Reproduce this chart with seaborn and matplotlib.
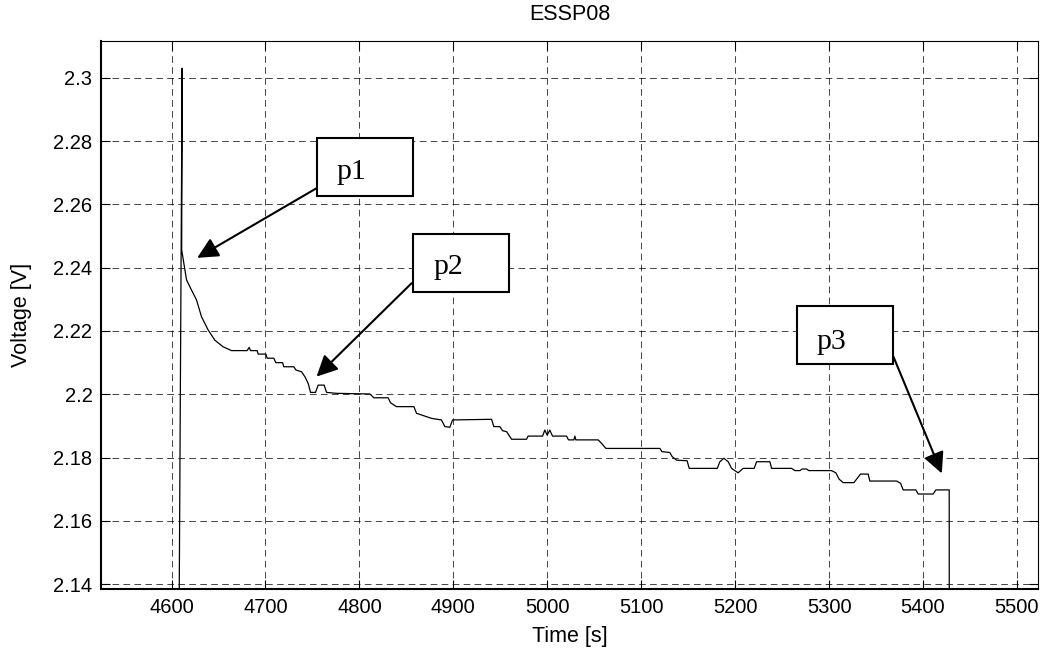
import matplotlib
matplotlib.use("Agg")
import matplotlib.pyplot as plt
import seaborn as sns
import pandas as pd
from matplotlib.patches import Rectangle
from matplotlib.ticker import FixedLocator, FuncFormatter

# ---------------- data ----------------
time_s = [4607.5, 4611.3, 4610.8, 4616.0, 4621.3, 4626.6, 4631.9, 4639.0, 4646.1, 4654.9,
          4663.9, 4680.5, 4682.6, 4684.1, 4691.1, 4692.2, 4700.4, 4701.8, 4708.9, 4711.0,
          4718.2, 4719.6, 4730.2, 4732.3, 4738.4, 4741.9, 4745.4, 4748.0, 4753.3, 4756.1,
          4762.5, 4765.0, 4775.7, 4811.1, 4815.4, 4830.6, 4833.2, 4839.5, 4858.0, 4860.8,
          4876.8, 4887.4, 4891.0, 4896.3, 4899.2, 4940.7, 4943.1, 4949.5, 4952.4, 4956.7,
          4962.0, 4977.9, 4979.6, 4995.0, 4997.4, 4999.9, 5002.7, 5005.6, 5020.5, 5022.6,
          5028.3, 5029.4, 5030.4, 5054.2, 5057.8, 5062.4, 5119.9, 5122.0, 5130.5, 5133.0,
          5137.6, 5148.9, 5151.1, 5181.0, 5183.7, 5188.0, 5192.6, 5196.2, 5203.2, 5208.5,
          5220.3, 5222.8, 5237.0, 5238.8, 5260.1, 5263.6, 5268.9, 5271.4, 5276.0, 5278.5,
          5302.6, 5307.2, 5310.7, 5315.0, 5326.4, 5329.3, 5333.5, 5341.6, 5343.4, 5371.9,
          5376.1, 5378.9, 5392.4, 5394.9, 5410.8, 5413.7, 5427.9, 5428.0]
voltage_v = [2.1000, 2.3030, 2.2456, 2.2361, 2.2329, 2.2298, 2.2245, 2.2203, 2.2171, 2.2150,
             2.2138, 2.2138, 2.2148, 2.2138, 2.2138, 2.2127, 2.2127, 2.2114, 2.2114, 2.2100,
             2.2100, 2.2087, 2.2087, 2.2077, 2.2071, 2.2056, 2.2035, 2.2006, 2.2006, 2.2029,
             2.2029, 2.2006, 2.2003, 2.2001, 2.1989, 2.1989, 2.1973, 2.1961, 2.1961, 2.1940,
             2.1924, 2.1919, 2.1898, 2.1896, 2.1919, 2.1921, 2.1898, 2.1898, 2.1885, 2.1882,
             2.1858, 2.1858, 2.1868, 2.1868, 2.1887, 2.1871, 2.1887, 2.1868, 2.1868, 2.1856,
             2.1856, 2.1868, 2.1856, 2.1856, 2.1845, 2.1829, 2.1829, 2.1819, 2.1816, 2.1803,
             2.1792, 2.1790, 2.1766, 2.1766, 2.1787, 2.1798, 2.1787, 2.1766, 2.1752, 2.1766,
             2.1766, 2.1787, 2.1787, 2.1766, 2.1766, 2.1759, 2.1759, 2.1764, 2.1764, 2.1759,
             2.1759, 2.1752, 2.1732, 2.1721, 2.1721, 2.1732, 2.1748, 2.1748, 2.1726, 2.1726,
             2.1719, 2.1698, 2.1698, 2.1685, 2.1685, 2.1698, 2.1698, 2.1000]
assert len(time_s) == len(voltage_v)

x_ticks = [4600, 4700, 4800, 4900, 5000, 5100, 5200, 5300, 5400, 5500]
y_ticks = [2.14, 2.16, 2.18, 2.20, 2.22, 2.24, 2.26, 2.28, 2.30]

title_text = "ESSP08"
x_label = "Time [s]"
y_label = "Voltage [V]"

# annotation labels and the points they mark (data units)
ann_labels = ["p1", "p2", "p3"]
ann_tip_t = [4627.3, 4754.4, 5420.0]
ann_tip_v = [2.2431, 2.2056, 2.1750]

# ---------------- layout (not data) ----------------
box_t0 = [4754.4, 4856.6, 5265.4]
box_t1 = [4857.3, 4959.4, 5368.3]
box_v0 = [2.2627, 2.2322, 2.2096]
box_v1 = [2.2809, 2.2505, 2.2279]
txt_t = [4775.7, 4878.5, 5286.7]
txt_v = [2.2679, 2.2379, 2.2143]
arr_t = [4754.4, 4855.6, 5368.5]
arr_v = [2.2651, 2.2351, 2.2119]

sns.set_theme(style="white")
plt.rcParams["font.family"] = ["Liberation Sans", "DejaVu Sans"]
plt.rcParams["lines.scale_dashes"] = False

fig = plt.figure(figsize=(10.46, 6.60), dpi=100)
ax = fig.add_axes([0.0970, 0.1071, 0.8956, 0.8308])

df = pd.DataFrame({"t": time_s, "v": voltage_v})
sns.lineplot(data=df, x="t", y="v", sort=False, estimator=None,
             color="black", linewidth=0.9, ax=ax, zorder=3)

ax.set_xlim(4525.4, 5522.7)
ax.set_ylim(2.1384, 2.3116)
ax.xaxis.set_major_locator(FixedLocator(x_ticks))
ax.yaxis.set_major_locator(FixedLocator(y_ticks))
ax.yaxis.set_major_formatter(FuncFormatter(lambda v, p: f"{v:g}"))
ax.xaxis.set_major_formatter(FuncFormatter(lambda v, p: f"{v:g}"))

ax.grid(True, color="black", linewidth=0.6, linestyle=(0, (4.8, 3.1)), alpha=0.85)
ax.set_axisbelow(False)

ax.tick_params(axis="both", which="major", direction="in", length=6.8, width=0.8,
               color="black", labelsize=14.5, pad=6.5, labelcolor="black",
               top=True, right=True, bottom=True, left=True)

for side in ["left", "bottom"]:
    ax.spines[side].set_linewidth(1.5)
    ax.spines[side].set_color("black")
for side in ["top", "right"]:
    ax.spines[side].set_linewidth(0.8)
    ax.spines[side].set_color("black")

ax.set_title(title_text, fontsize=15.5, pad=15, color="black")
ax.set_xlabel(x_label, fontsize=15.5, labelpad=6, color="black")
ax.set_ylabel(y_label, fontsize=15.5, color="black")
ax.yaxis.set_label_coords(-0.074, 0.5)

for i, lab in enumerate(ann_labels):
    ax.add_patch(Rectangle((box_t0[i], box_v0[i]), box_t1[i] - box_t0[i], box_v1[i] - box_v0[i],
                           facecolor="white", edgecolor="black", linewidth=1.5, zorder=5))
    ax.text(txt_t[i], txt_v[i], lab, fontsize=21.5, family=["Liberation Serif", "DejaVu Serif"],
            ha="left", va="baseline", color="black", zorder=6)
    ax.annotate("", xy=(ann_tip_t[i], ann_tip_v[i]), xytext=(arr_t[i], arr_v[i]),
                arrowprops=dict(arrowstyle="-|>,head_length=0.85,head_width=0.42",
                                mutation_scale=15, color="black", lw=1.5,
                                shrinkA=0, shrinkB=0),
                zorder=6)

fig.savefig("out.png", dpi=100)
